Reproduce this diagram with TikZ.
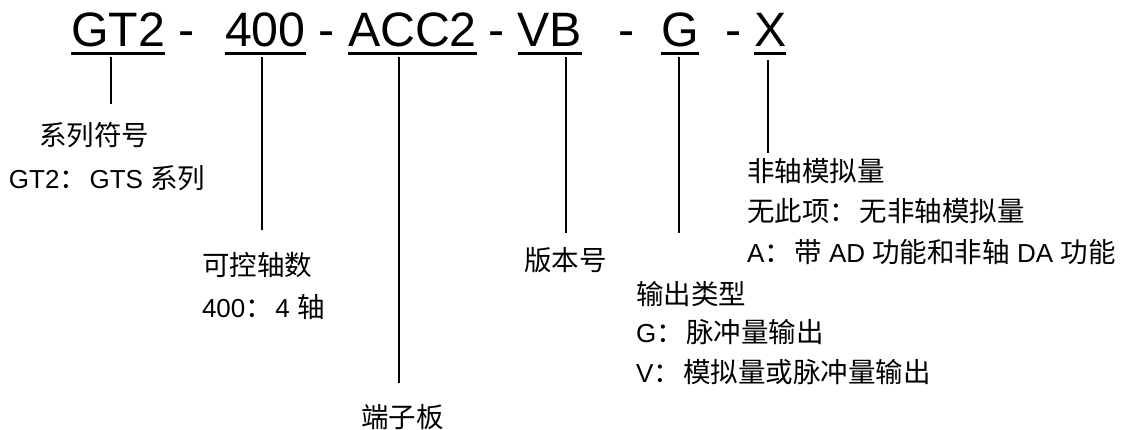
\documentclass[tikz,border=0pt]{standalone}
\usepackage{fontspec}
\setmainfont{Liberation Sans}
\newfontfamily\cjk[Scale=1.058]{Noto Sans CJK SC}
\newcommand\zhtxt[1]{{\cjk #1}}
\newcommand\zhcolon{{\cjk ：}\kern2.5pt}
\begin{document}
\begin{tikzpicture}[x=1pt,y=-1pt,
  code/.style={inner sep=0pt,outer sep=0pt,anchor=base west,font=\fontsize{48.3}{56}\selectfont},
  dashsym/.style={inner sep=0pt,outer sep=0pt,anchor=base,font=\fontsize{48.3}{56}\selectfont},
  lbl/.style={inner sep=0pt,outer sep=0pt,anchor=west,text height=20pt,text depth=2pt,font=\fontsize{26}{31}\selectfont},
  uline/.style={line width=3.2pt},
  vline/.style={line width=2.2pt}]
\useasboundingbox (0,0) rectangle (1129,430);
% code segments
\node[code] (gt2) at (71,47) {GT2};
\node[dashsym] (d1) at (186.5,47) {-};
\node[code] (n400) at (225,47) {400};
\node[dashsym] (d2) at (326.5,47) {-};
\node[code] (acc2) at (348,47) {ACC2};
\node[dashsym] (d3) at (496.5,47) {-};
\node[code] (vb) at (517.7,47) {VB};
\node[dashsym] (d4) at (626.5,47) {-};
\node[code] (g) at (661,47) {G};
\node[dashsym] (d5) at (733.5,47) {-};
\node[code] (x) at (754,47) {X};
% underlines
\foreach \n in {gt2,n400,acc2,vb,g,x}{
  \draw[uline] ([yshift=-6.6pt]\n.base west) -- ([yshift=-6.6pt]\n.base east);
}
% labels
\node[lbl] (l1a) at (39,137) {\zhtxt{系列符号}};
\node[lbl] (l1b) at (9,180) {GT2\zhcolon GTS \zhtxt{系列}};
\node[lbl] (l2a) at (202,267) {\zhtxt{可控轴数}};
\node[lbl] (l2b) at (202,308) {400\zhcolon 4 \zhtxt{轴}};
\node[lbl] (l3) at (361,418) {\zhtxt{端子板}};
\node[lbl] (l4) at (524,262) {\zhtxt{版本号}};
\node[lbl] (l5a) at (636,295) {\zhtxt{输出类型}};
\node[lbl] (l5b) at (636,333) {G\zhcolon\zhtxt{脉冲量输出}};
\node[lbl] (l5c) at (636,373) {V\zhcolon\zhtxt{模拟量或脉冲量输出}};
\node[lbl] (l6a) at (747,173) {\zhtxt{非轴模拟量}};
\node[lbl] (l6b) at (747,213) {\zhtxt{无此项}\zhcolon\zhtxt{无非轴模拟量}};
\node[lbl] (l6c) at (747,253) {A\zhcolon\zhtxt{带} AD \zhtxt{功能和非轴} DA \zhtxt{功能}};
% connector end points
\coordinate (t1) at (110.7,57); \coordinate (b1) at (110.7,104);
\coordinate (t2) at (261.7,57); \coordinate (b2) at (261.7,230);
\coordinate (t3) at (399,57);   \coordinate (b3) at (399,383);
\coordinate (t4) at (565.7,57); \coordinate (b4) at (565.7,233);
\coordinate (t5) at (679,57);   \coordinate (b5) at (679,233);
\coordinate (t6) at (768,60);   \coordinate (b6) at (768,153);
\foreach \i in {1,...,6}{ \draw[vline] (t\i) -- (b\i); }
\end{tikzpicture}
\end{document}
